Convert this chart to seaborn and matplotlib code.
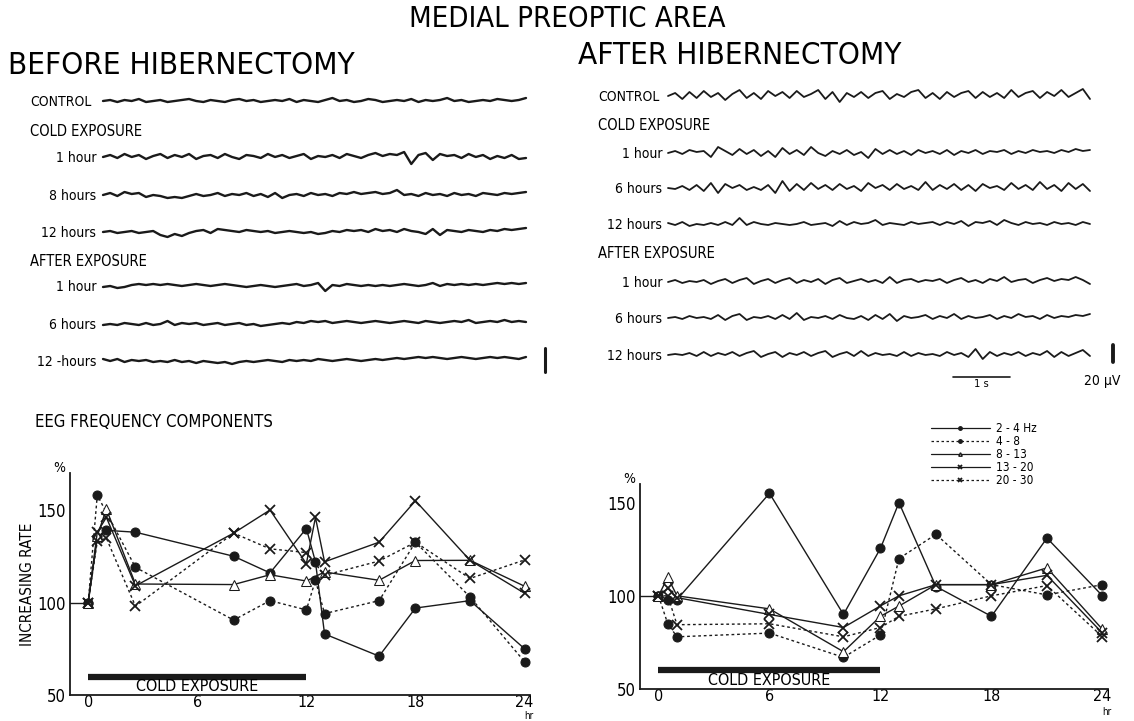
import matplotlib
matplotlib.use("Agg")
import matplotlib.pyplot as plt
from matplotlib.lines import Line2D
import numpy as np
import pandas as pd
import seaborn as sns

sns.set_theme(style="white")
plt.rcParams['font.family'] = ['DejaVu Sans']
plt.rcParams['font.stretch'] = 'condensed'
for k in ["text.color", "axes.labelcolor", "xtick.color", "ytick.color"]:
    plt.rcParams[k] = "black"

# ---------------- data: EEG frequency components (increasing rate, %) ----------------
BANDS = ["2 - 4 Hz", "4 - 8", "8 - 13", "13 - 20", "20 - 30"]

# before hibernectomy
pre_t = [-1, 0]
pre_v = [100, 100]
b_24_t = [0, 0.5, 1, 2.6, 8, 10, 12, 12.5, 13, 16, 18, 21, 24]
b_24_v = [100, 135, 139, 138, 125, 116, 140, 122, 83, 71, 97, 101, 75]
b_48_t = [0, 0.5, 2.6, 8, 10, 12, 12.5, 13, 16, 18, 21, 24]
b_48_v = [100, 158, 119, 90.5, 101, 96, 112, 94, 101, 132.6, 103, 68]
b_813_t = [0, 0.5, 1, 2.6, 8, 10, 12, 13, 16, 18, 21, 24]
b_813_v = [100, 136, 150.5, 110, 109.7, 115, 111.6, 116.5, 112, 122.7, 122.8, 108.8]
b_1320_t = [0, 0.5, 1, 2.6, 8, 10, 12, 12.5, 13, 16, 18, 21, 24]
b_1320_v = [100, 138, 146, 109, 137.5, 150, 121, 146, 122, 132.6, 155, 122.8, 105]
b_2030_t = [0, 0.5, 1, 2.6, 8, 10, 12, 13, 16, 18, 21, 24]
b_2030_v = [100, 133, 134.8, 98, 137.5, 129, 127, 114.7, 122.4, 132.6, 113, 123]

# after hibernectomy
a_t = [0, 0.5, 1, 6, 10, 12, 13, 15, 18, 21, 24]
a_24_v = [100, 98, 98, 155, 90, 125.5, 150, 105, 89, 131, 100]
a_48_v = [100, 85, 78, 80, 67, 79, 120, 133, 106, 100.5, 106]
a_813_v = [100, 110, 100, 93, 70, 89, 94.5, 106, 106, 115, 82]
a_1320_v = [100, 104, 99, 90, 83, 94.6, 100, 106, 106, 111, 80]
a_2030_v = [100, 100, 84.5, 85, 78, 83, 89, 93, 100, 105.5, 78]

COLD_START, COLD_END = 0, 12
X_TICKS = [0, 6, 12, 18, 24]
Y_TICKS = [50, 100, 150]

# ---------------- data: EEG traces (deflection estimates) ----------------
before_labels = ["CONTROL", "1 hour", "8 hours", "12 hours", "1 hour", "6 hours", "12 -hours"]
after_labels = ["CONTROL", "1 hour", "6 hours", "12 hours", "1 hour", "6 hours", "12 hours"]

bt_control = [0,1,-1,1,0,2,-1,0,1,-1,0,1,2,0,-1,1,0,-1,1,2,0,1,-1,0,1,0,2,-1,1,0,-1,1,3,0,1,-1,0,2,1,-1,0,1,0,2,-1,1,0,1,3,0,1,-1,0,1,0,2,1,0,1,3]
bt_cold1 = [0,2,-1,3,0,2,-2,1,3,-1,2,0,3,-2,1,2,-1,3,0,-2,2,1,-1,3,0,2,-1,1,3,-2,1,0,2,-1,3,1,-1,2,4,1,3,2,5,-7,2,4,-3,3,1,2,-1,3,0,2,-2,1,-1,2,-2,-1]
bt_cold8 = [0,2,-1,3,1,2,-2,0,-1,-3,-2,-3,-1,1,-1,0,2,-1,1,0,2,-1,1,-2,2,-3,0,1,-1,2,0,1,-1,2,1,3,1,2,3,1,2,5,0,1,-1,2,0,1,-1,2,0,1,-1,2,1,0,2,1,2,3]
bt_cold12 = [0,1,-1,0,1,-1,0,1,-3,-5,-2,-4,-1,1,2,-1,3,2,1,0,2,1,0,1,-1,0,1,0,-1,0,-2,-1,1,0,2,1,2,0,3,1,2,0,3,1,0,-2,3,-3,2,1,0,2,1,0,2,1,3,2,3,4]
bt_after1 = [-1,0,-2,-1,1,2,1,2,1,2,1,0,1,2,1,0,1,2,1,0,-1,0,1,0,-1,0,1,2,0,1,3,-5,1,0,2,1,0,1,0,1,0,1,2,1,0,1,3,0,2,1,2,1,2,1,2,3,2,3,2,3]
bt_after6 = [-1,0,-1,1,0,-1,1,-1,0,3,-1,1,0,1,-1,0,1,-1,0,1,-1,0,-2,-1,0,1,0,2,1,3,2,3,1,2,3,2,1,2,3,2,1,2,3,2,1,3,2,1,2,3,2,4,1,2,3,2,4,2,3,2]
bt_after12 = [2,0,2,-1,1,0,1,-1,0,-1,1,-1,0,-2,0,-1,-2,-1,-3,-1,0,-1,0,1,0,-1,1,0,1,0,2,1,0,1,2,1,0,1,2,1,2,3,2,3,4,3,4,3,2,3,4,3,2,3,4,3,4,3,2,4]

at_control = [0,3,-3,4,-2,5,-1,3,-4,2,6,-2,3,-3,5,0,4,-2,5,-1,2,6,-3,4,-6,3,-1,4,-2,3,5,-3,2,-1,4,6,-2,3,-3,4,-1,3,5,-2,4,-1,3,-2,6,-1,3,5,-2,4,0,6,-1,3,7,-3]
at_cold1 = [0,2,-1,3,1,2,-4,6,2,-2,4,-1,3,-3,2,-4,5,-1,3,-2,6,0,-3,2,-1,3,-2,1,-5,4,-1,3,-1,2,-2,3,0,2,-1,3,-2,2,0,3,-1,2,1,3,-1,2,0,3,1,2,0,3,1,4,2,3]
at_cold6 = [0,-1,2,-2,3,-3,5,-5,4,0,3,-2,1,-2,3,-5,7,-3,4,-2,5,-1,3,-2,4,-1,2,-3,5,0,3,-2,4,-1,2,-2,6,-2,3,-1,4,-2,3,-3,4,0,2,-2,5,-1,3,-2,6,-1,3,-3,5,-1,4,-3]
at_cold12 = [1,-1,2,-2,0,-1,1,-1,2,-1,6,-1,2,0,-1,1,0,-1,0,2,-1,0,1,-2,3,-1,2,0,1,4,-1,1,0,-1,2,0,1,2,-1,2,0,3,-2,2,1,3,-1,4,1,-1,2,0,1,-1,2,0,1,-1,2,0]
at_after1 = [0,2,-1,1,0,2,-2,1,3,-1,2,4,-2,1,3,-1,2,4,-1,2,0,3,-2,2,4,-1,1,3,0,2,-1,5,-1,2,3,0,2,1,3,-1,2,4,0,2,-1,3,1,5,0,2,3,-1,2,4,1,3,2,5,2,-2]
at_after6 = [0,1,-1,2,0,1,-1,3,-2,2,4,-2,1,0,2,-1,3,-1,5,-2,1,0,2,-1,3,0,-1,2,-2,3,-1,4,-3,2,0,1,3,-1,2,0,4,-1,2,0,1,3,-1,2,0,4,1,2,-1,3,0,2,1,3,2,4]
at_after12 = [0,1,0,2,-1,3,-1,2,0,3,-1,2,4,-2,1,3,-2,2,0,3,-1,2,4,-2,1,3,-1,4,-1,2,0,1,-1,3,-1,2,0,1,-1,3,0,2,-2,6,-4,3,-1,2,0,3,-1,2,0,4,-2,3,-1,2,5,-1]

before_traces = [bt_control, bt_cold1, bt_cold8, bt_cold12, bt_after1, bt_after6, bt_after12]
after_traces = [at_control, at_cold1, at_cold6, at_cold12, at_after1, at_after6, at_after12]

# ---------------- figure ----------------
W, H = 1134, 721
fig = plt.figure(figsize=(W / 100, H / 100), dpi=100)
bg = fig.add_axes([0, 0, 1, 1])
bg.set_xlim(0, W)
bg.set_ylim(H, 0)
bg.axis("off")

def fpos(x0, x1, ytop, ybot):
    return [x0 / W, 1 - ybot / H, (x1 - x0) / W, (ybot - ytop) / H]

# titles
bg.text(567, 19, "MEDIAL PREOPTIC AREA", ha="center", va="center", fontsize=21)
bg.text(8, 65, "BEFORE HIBERNECTOMY", ha="left", va="center", fontsize=22.5)
bg.text(578, 56, "AFTER HIBERNECTOMY", ha="left", va="center", fontsize=22.5)

# traces
def draw_traces(traces, labels, x0, x1, ys, label_x, head_x, head_ys, lw):
    for tr, lab, y in zip(traces, labels, ys):
        xs = np.linspace(x0, x1, len(tr))
        sns.lineplot(x=xs, y=y - np.asarray(tr, float), ax=bg, color="k", lw=lw,
                     estimator=None, sort=False)
        if lab == "CONTROL":
            bg.text(head_x, y + 1, lab, ha="left", va="center", fontsize=10)
        else:
            bg.text(label_x, y + 1, lab, ha="right", va="center", fontsize=10)
    bg.text(head_x, head_ys[0], "COLD EXPOSURE", ha="left", va="center", fontsize=10.5)
    bg.text(head_x, head_ys[1], "AFTER EXPOSURE", ha="left", va="center", fontsize=10.5)

draw_traces(before_traces, before_labels, 103, 526, [101, 157, 195, 232, 286, 324, 361],
            96, 30, [131, 261], 1.7)
draw_traces(after_traces, after_labels, 668, 1090, [96, 153, 188, 224, 282, 318, 355],
            662, 598, [126, 254], 1.3)

# scale bars
bg.plot([545, 545], [348, 372], color="k", lw=2.2)
bg.plot([1113, 1113], [345, 362], color="k", lw=2.8)
bg.plot([953, 1010], [377, 377], color="k", lw=1.2)
bg.text(981, 384, "1 s", ha="center", va="center", fontsize=8)
bg.text(1102, 381, "20 \u00b5V", ha="center", va="center", fontsize=10)

bg.text(35, 422, "EEG FREQUENCY COMPONENTS", ha="left", va="center", fontsize=12)

# ---------------- charts ----------------
styles = [
    dict(linestyle="-", marker="o", mfc="k", ms=6.5),
    dict(linestyle=(0, (2, 2)), marker="o", mfc="k", ms=6.5),
    dict(linestyle="-", marker="^", mfc="white", ms=7),
    dict(linestyle="-", marker="x", mfc="k", ms=6.5, mew=1.3),
    dict(linestyle=(0, (2, 2)), marker="x", mfc="k", ms=6.5, mew=1.3),
]

def chart(pos, series, ylim, ylabel, hr_off):
    ax = fig.add_axes(pos)
    sns.lineplot(x=pre_t, y=pre_v, ax=ax, color="k", lw=1.0)
    for (t, v), st in zip(series, styles):
        sns.lineplot(x=t, y=v, ax=ax, color="k", lw=1.0, mec="k", estimator=None, sort=False, **st)
    ax.plot([COLD_START, COLD_END], [60, 60], color="k", lw=4.5, solid_capstyle="butt")
    ax.text((COLD_START + COLD_END) / 2, 54.5, "COLD EXPOSURE", ha="center", va="center", fontsize=11.5)
    ax.set_xlim(-1, 24.3)
    ax.set_ylim(*ylim)
    ax.set_xticks(X_TICKS)
    ax.set_yticks(Y_TICKS)
    ax.set_xticklabels([str(x) for x in X_TICKS], fontsize=11.5)
    ax.set_yticklabels([str(y) for y in Y_TICKS], fontsize=12)
    ax.tick_params(axis="x", length=0, pad=0)
    ax.tick_params(axis="y", length=0, pad=3)
    for s in ["top", "right"]:
        ax.spines[s].set_visible(False)
    for s in ["left", "bottom"]:
        ax.spines[s].set_color("k")
        ax.spines[s].set_linewidth(1.3)
    ax.set_xlabel("")
    ax.set_ylabel(ylabel, fontsize=11, labelpad=2)
    ax.text(-1.6, ylim[1] - 1, "%", ha="center", va="bottom", fontsize=10)
    ax.text(24.25, ylim[0] - hr_off, "hr", ha="center", va="center", fontsize=7)
    ax.patch.set_alpha(0)
    return ax

left_series = [(b_24_t, b_24_v), (b_48_t, b_48_v), (b_813_t, b_813_v),
               (b_1320_t, b_1320_v), (b_2030_t, b_2030_v)]
right_series = [(a_t, a_24_v), (a_t, a_48_v), (a_t, a_813_v), (a_t, a_1320_v), (a_t, a_2030_v)]

axL = chart(fpos(70, 530, 473, 695), left_series, (50, 170), "INCREASING RATE", 11.5)
axR = chart(fpos(640, 1108, 484, 689), right_series, (50, 160), "", 12.5)

# legend
handles = []
for st in styles:
    s2 = dict(st)
    s2["ms"] = 2.5
    handles.append(Line2D([0, 1, 2], [0, 0, 0], color="k", lw=0.9, mec="k", markevery=[1], **s2))
leg = fig.legend(handles, BANDS, loc="upper left", bbox_to_anchor=(925 / W, 1 - 416 / H),
                 frameon=False, fontsize=8.5, handlelength=5, handletextpad=0.5,
                 labelspacing=0.0, borderpad=0)

fig.savefig("out.png", dpi=100)
